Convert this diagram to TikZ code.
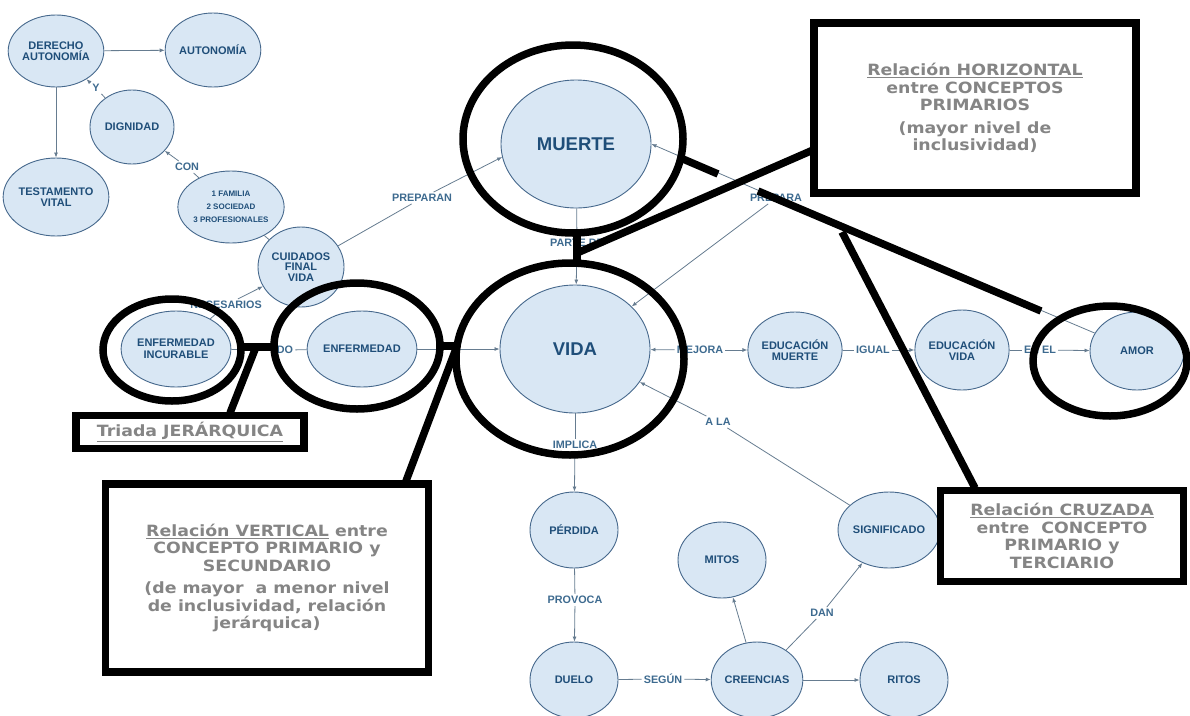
\documentclass[tikz,border=0pt]{standalone}
\usepackage{fontspec}
\setmainfont{Liberation Sans}
\newfontfamily\notafont[FakeStretch=1.12]{DejaVu Sans}
\usetikzlibrary{shapes.geometric,arrows.meta}

\definecolor{relleno}{HTML}{D9E7F4}
\definecolor{borde}{HTML}{46688C}
\definecolor{texto}{HTML}{1F4E79}
\definecolor{textoenlace}{HTML}{3D6A8F}
\definecolor{linea}{HTML}{667C90}
\definecolor{gris}{HTML}{858585}

\begin{document}
\begin{tikzpicture}[x=1pt,y=-1pt,
	concepto/.style={ellipse,draw=borde,fill=relleno,line width=0.9pt,minimum width=88pt,minimum height=76pt,inner sep=0pt,align=center,text=texto,font=\bfseries\fontsize{11}{11.5}\selectfont},
	grande/.style={concepto,minimum width=150pt,minimum height=128pt,font=\bfseries\fontsize{18.5}{20}\selectfont},
	enlace/.style={inner sep=2pt,text=textoenlace,font=\bfseries\fontsize{10.8}{11}\selectfont},
	tramo/.style={draw=linea,line width=0.8pt},
	flecha/.style={tramo,-{Latex[length=5pt,width=4pt]}},
	marco/.style={draw=black,line width=7.5pt},
	caja/.style={rectangle,marco,fill=white,align=center,text=gris,font=\notafont\bfseries\fontsize{15.5}{17.5}\selectfont}]
	\clip (0,0) rectangle (1190,715);
	
	% Conceptos de la parte izquierda
	\node[concepto,minimum height=72pt] (derecho) at (56,51) {DERECHO\\AUTONOMÍA};
	\node[concepto,minimum width=86pt,minimum height=74pt] (autonomia) at (213,50) {AUTONOMÍA};
	\node[concepto,minimum width=84pt,minimum height=74pt] (dignidad) at (132,127) {DIGNIDAD};
	\node[concepto,minimum height=78pt] (testamento) at (56,197) {TESTAMENTO\\VITAL};
	\node[concepto,minimum width=82pt,minimum height=72pt,font=\bfseries\fontsize{8}{13}\selectfont] (apoyos) at (231,207) {1 FAMILIA\\2 SOCIEDAD\\3 PROFESIONALES};
	\node[concepto,minimum width=86pt,minimum height=80pt,font=\bfseries\fontsize{11}{10.5}\selectfont] (cuidados) at (301,267) {CUIDADOS\\FINAL\\VIDA};
	\node[concepto] (incurable) at (176,349) {ENFERMEDAD\\INCURABLE};
	\node[concepto] (enfermedad) at (362,349) {ENFERMEDAD};
	
	% Conceptos primarios
	\node[grande] (muerte) at (576,144) {MUERTE};
	\node[grande] (vida) at (575,349) {VIDA};
	
	% Conceptos de la derecha y de abajo
	\node[concepto,minimum width=90pt] (edmuerte) at (795,350) {EDUCACIÓN\\MUERTE};
	\node[concepto,minimum width=84pt,minimum height=80pt] (edvida) at (962,350) {EDUCACIÓN\\VIDA};
	\node[concepto,minimum width=94pt,minimum height=78pt] (amor) at (1137,351) {AMOR};
	\node[concepto] (perdida) at (574,530) {PÉRDIDA};
	\node[concepto] (duelo) at (574,680) {DUELO};
	\node[concepto] (mitos) at (722,560) {MITOS};
	\node[concepto] (creencias) at (757,680) {CREENCIAS};
	\node[concepto] (significado) at (889,530) {SIGNIFICADO};
	\node[concepto] (ritos) at (904,680) {RITOS};
	
	% Palabras de enlace
	\node[enlace] (y) at (96,88) {Y};
	\node[enlace] (con) at (187,167) {CON};
	\node[enlace] (preparan) at (422,198) {PREPARAN};
	\node[enlace] (necesarios) at (226,305) {NECESARIOS};
	\node[enlace] (do) at (285,350) {DO};
	\node[enlace] (partede) at (577,243) {PARTE DE};
	\node[enlace] (prepara) at (776,198) {PREPARA};
	\node[enlace] (mejora) at (700,350) {MEJORA};
	\node[enlace] (igual) at (873,350) {IGUAL};
	\node[enlace] (enel) at (1040,350) {EN EL};
	\node[enlace] (implica) at (575,445) {IMPLICA};
	\node[enlace] (ala) at (718,422) {A LA};
	\node[enlace] (provoca) at (575,600) {PROVOCA};
	\node[enlace] (segun) at (663,679) {SEGÚN};
	\node[enlace] (dan) at (822,613) {DAN};
	
	% Conectores
	\draw[flecha] (derecho) -- (autonomia);
	\draw[flecha] (derecho) -- (testamento);
	\draw[tramo] (dignidad) -- (y);
	\draw[flecha] (y) -- (derecho);
	\draw[tramo] (apoyos) -- (con);
	\draw[flecha] (con) -- (dignidad);
	\draw[tramo] (cuidados) -- (apoyos);
	\draw[tramo] (cuidados) -- (preparan);
	\draw[flecha] (preparan) -- (muerte.190);
	\draw[tramo] (incurable) -- (necesarios);
	\draw[flecha] (necesarios) -- (cuidados);
	\draw[tramo] (incurable) -- (do);
	\draw[tramo] (do) -- (enfermedad);
	\draw[flecha] (enfermedad) -- (vida);
	\draw[tramo] (muerte) -- (partede);
	\draw[flecha] (partede) -- (vida);
	\draw[tramo] (amor) -- (prepara);
	\draw[flecha] (prepara) -- (muerte.east);
	\draw[flecha] (prepara) -- (vida);
	\draw[flecha] (mejora) -- (vida);
	\draw[flecha] (mejora) -- (edmuerte);
	\draw[tramo] (edmuerte) -- (igual);
	\draw[flecha] (igual) -- (edvida);
	\draw[tramo] (edvida) -- (enel);
	\draw[flecha] (enel) -- (amor);
	\draw[tramo] (vida) -- (implica);
	\draw[flecha] (implica) -- (perdida);
	\draw[tramo] (perdida) -- (provoca);
	\draw[flecha] (provoca) -- (duelo);
	\draw[tramo] (duelo) -- (segun);
	\draw[flecha] (segun) -- (creencias);
	\draw[flecha] (creencias) -- (mitos);
	\draw[flecha] (creencias) -- (ritos);
	\draw[tramo] (creencias) -- (dan);
	\draw[flecha] (dan) -- (significado);
	\draw[tramo] (significado) -- (ala);
	\draw[flecha] (ala) -- (vida);
	
	% Anillos negros
	\draw[marco] (573,139) ellipse (110pt and 94pt);
	\draw[marco] (570,359) ellipse (114pt and 96pt);
	\draw[marco] (172,350) ellipse (69pt and 51pt);
	\draw[marco] (357,346) ellipse (83pt and 63pt);
	\draw[marco] (1110,361) ellipse (77pt and 55pt);
	
	% Recuadros explicativos
	\node[caja,minimum width=322pt,minimum height=170pt] (horizontal) at (975,108) {\underline{Relación HORIZONTAL}\\entre CONCEPTOS\\PRIMARIOS\\[5pt](mayor nivel de\\inclusividad)};
	\node[caja,minimum width=228pt,minimum height=33pt] (triada) at (190,432) {\underline{Triada JERÁRQUICA}};
	\node[caja,minimum width=323pt,minimum height=188pt] (vertical) at (267,578) {\underline{Relación VERTICAL} entre\\CONCEPTO PRIMARIO y\\SECUNDARIO\\[5pt](de mayor\ \ a menor nivel\\de inclusividad, relación\\jerárquica)};
	\node[caja,minimum width=243pt,minimum height=91pt] (cruzada) at (1062,536) {\underline{Relación CRUZADA}\\entre\ \ CONCEPTO\\PRIMARIO y\\TERCIARIO};
	
	% Trazos gruesos hacia los recuadros
	\coordinate (uMV) at (577,253);
	\coordinate (uT) at (256,347);
	\coordinate (uV) at (457,346);
	\coordinate (uC) at (842,232);
	\draw[marco] (240,347) -- (275,347);
	\draw[marco] (uT) -- (230,413);
	\draw[marco] (439,346) -- (uV);
	\draw[marco] (uV) -- (406,481);
	\draw[marco] (577,231) -- (577,267);
	\draw[marco] (813,150) -- (uMV);
	\draw[marco] (683,159) -- (718,174);
	\draw[marco] (758,191) -- (1041,311);
	\draw[marco] (uC) -- (975,488);
\end{tikzpicture}
\end{document}
